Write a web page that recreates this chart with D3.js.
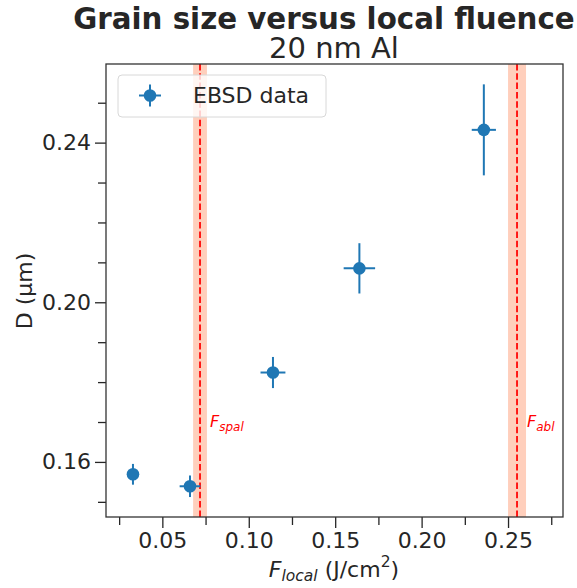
<!DOCTYPE html>
<html><head><meta charset="utf-8">
<script src="https://cdn.jsdelivr.net/npm/d3@7"></script>
<style>
body{margin:0;background:#fff;}
text{font-family:"DejaVu Sans",sans-serif;fill:#262626;}
</style></head>
<body><svg id="c" width="577" height="588"></svg>
<script>
// ---- data ----
const fluence = [0.033, 0.066, 0.114, 0.164, 0.236];
const fluenceErr = [0.003, 0.006, 0.0072, 0.0091, 0.007];
const grainSize = [0.1569, 0.1539, 0.1824, 0.2085, 0.2432];
const grainSizeErr = [0.0026, 0.0027, 0.0039, 0.0063, 0.0114];
const thresholdNames = ["spal", "abl"];
const thresholdValues = [0.0718, 0.2552];
const thresholdErr = [0.0040, 0.0052];
const xMajorTicks = [0.05, 0.10, 0.15, 0.20, 0.25];
const xMinorTicks = [0.025, 0.075, 0.125, 0.175, 0.225, 0.275];
const yMajorTicks = [0.16, 0.20, 0.24];
const yMinorTicks = [0.15, 0.17, 0.18, 0.19, 0.21, 0.22, 0.23, 0.25];
const seriesName = "EBSD data";

const svg = d3.select("#c");
const L = 106, R = 563, T = 64, B = 517;
const x = d3.scaleLinear().domain([0.0174, 0.2818]).range([L, R]);
const y = d3.scaleLinear().domain([0.1462, 0.2597]).range([B, T]);
const blue = "#1f77b4";

// threshold bands and lines
thresholdValues.forEach((v, i) => {
  svg.append("rect").attr("x", x(v - thresholdErr[i])).attr("y", T)
    .attr("width", x(v + thresholdErr[i]) - x(v - thresholdErr[i])).attr("height", B - T)
    .attr("fill", "#ffa07a").attr("fill-opacity", 0.5);
  svg.append("line").attr("x1", x(v)).attr("x2", x(v)).attr("y1", T).attr("y2", B)
    .attr("stroke", "#ff0000").attr("stroke-width", 1.75).attr("stroke-dasharray", "6.5,2.8");
  const t = svg.append("text").attr("x", x(v) + 10).attr("y", 427).style("fill", "#ff0000")
    .attr("font-size", 16).attr("font-style", "italic");
  t.append("tspan").text("F");
  t.append("tspan").attr("font-size", 12).attr("dy", 4).text(thresholdNames[i]);
});

// axes
const xAxisMajor = d3.axisBottom(x).tickValues(xMajorTicks).tickSize(11).tickPadding(4).tickFormat(d3.format(".2f"));
const xAxisMinor = d3.axisBottom(x).tickValues(xMinorTicks).tickSize(8).tickFormat("");
const yAxisMajor = d3.axisLeft(y).tickValues(yMajorTicks).tickSize(11).tickPadding(4).tickFormat(d3.format(".2f"));
const yAxisMinor = d3.axisLeft(y).tickValues(yMinorTicks).tickSize(8).tickFormat("");
function styleAx(g){
  g.select(".domain").remove();
  g.selectAll("line").attr("stroke", "#262626").attr("stroke-width", 1.3);
  g.selectAll("text").attr("font-size", 22).attr("font-family", "DejaVu Sans").style("fill", "#262626");
}
svg.append("g").attr("transform", `translate(0,${B})`).call(xAxisMajor).call(styleAx);
svg.append("g").attr("transform", `translate(0,${B})`).call(xAxisMinor).call(styleAx);
svg.append("g").attr("transform", `translate(${L},0)`).call(yAxisMajor).call(styleAx);
svg.append("g").attr("transform", `translate(${L},0)`).call(yAxisMinor).call(styleAx);

// spines
svg.append("rect").attr("x", L).attr("y", T).attr("width", R - L).attr("height", B - T)
  .attr("fill", "none").attr("stroke", "#333").attr("stroke-width", 1.3);

// data with error bars
const pts = svg.append("g");
fluence.forEach((fx, i) => {
  const cx = x(fx), cy = y(grainSize[i]);
  pts.append("line").attr("x1", x(fx - fluenceErr[i])).attr("x2", x(fx + fluenceErr[i]))
    .attr("y1", cy).attr("y2", cy).attr("stroke", blue).attr("stroke-width", 2);
  pts.append("line").attr("x1", cx).attr("x2", cx)
    .attr("y1", y(grainSize[i] - grainSizeErr[i])).attr("y2", y(grainSize[i] + grainSizeErr[i]))
    .attr("stroke", blue).attr("stroke-width", 2);
  pts.append("circle").attr("cx", cx).attr("cy", cy).attr("r", 6.3).attr("fill", blue);
});

// legend
const lg = svg.append("g");
lg.append("rect").attr("x", 118).attr("y", 75).attr("width", 208).attr("height", 42).attr("rx", 4)
  .attr("fill", "#fff").attr("fill-opacity", 0.8).attr("stroke", "#d8d8d8").attr("stroke-width", 1);
lg.append("line").attr("x1", 139).attr("x2", 161).attr("y1", 95.5).attr("y2", 95.5).attr("stroke", blue).attr("stroke-width", 2);
lg.append("line").attr("x1", 150).attr("x2", 150).attr("y1", 84.5).attr("y2", 106.5).attr("stroke", blue).attr("stroke-width", 2);
lg.append("circle").attr("cx", 150).attr("cy", 95.5).attr("r", 6.3).attr("fill", blue);
lg.append("text").attr("x", 193).attr("y", 103).attr("font-size", 22).text(seriesName);

// titles
svg.append("text").attr("x", 324).attr("y", 29).attr("text-anchor", "middle")
  .attr("font-size", 29.3).attr("font-weight", "bold").text("Grain size versus local fluence");
svg.append("text").attr("x", 334).attr("y", 58).attr("text-anchor", "middle")
  .attr("font-size", 29).text("20 nm Al");

// y label
svg.append("text").attr("transform", "translate(32,291) rotate(-90)").attr("text-anchor", "middle")
  .attr("font-size", 22).text("D (µm)");

// x label
const xl = svg.append("text").attr("x", 334).attr("y", 577).attr("text-anchor", "middle").attr("font-size", 22);
xl.append("tspan").attr("font-style", "italic").text("F");
xl.append("tspan").attr("font-style", "italic").attr("font-size", 15.5).attr("dy", 3.5).text("local");
xl.append("tspan").attr("dy", -3.5).text(" (J/cm");
xl.append("tspan").attr("font-size", 15.5).attr("dy", -10).text("2");
xl.append("tspan").attr("dy", 10).text(")");
</script></body></html>
